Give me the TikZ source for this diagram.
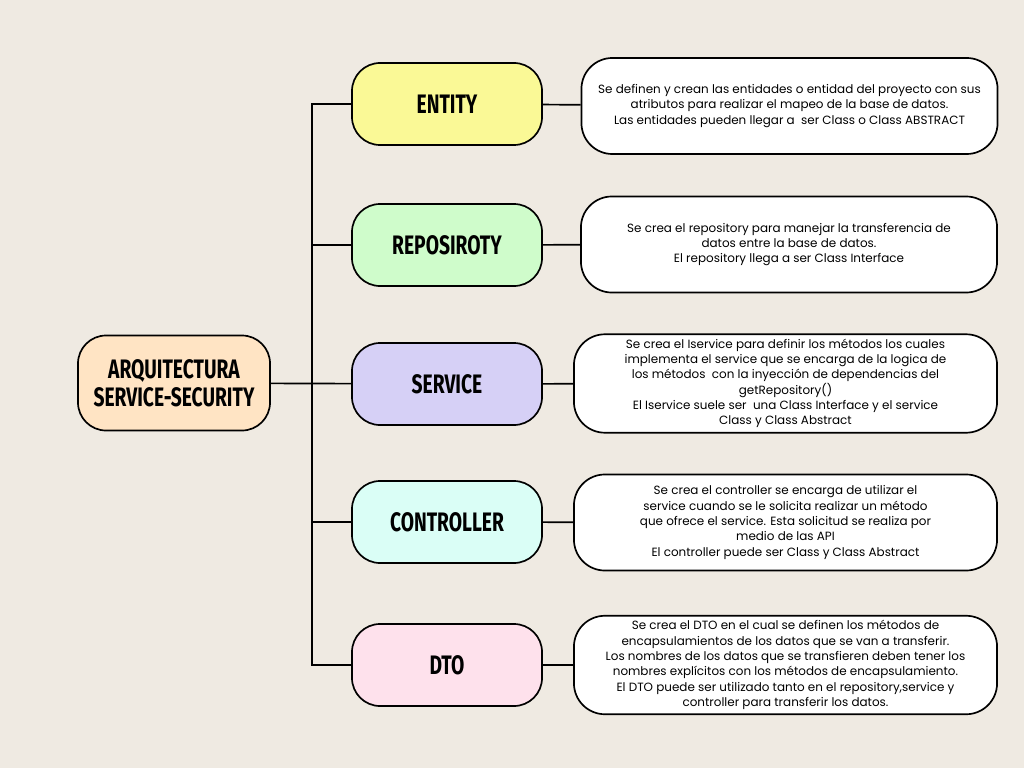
\documentclass[tikz,border=0pt]{standalone}
\usepackage{fontspec}
\usepackage{tikz}
\usetikzlibrary{positioning}
\setmainfont{Poppins}
\newfontfamily\headfont[FakeStretch=0.72]{Fira Sans}
\definecolor{paper}{RGB}{239,234,226}
\definecolor{rootfill}{RGB}{255,228,196}
\definecolor{entityfill}{RGB}{250,249,150}
\definecolor{repofill}{RGB}{207,252,203}
\definecolor{servfill}{RGB}{214,208,246}
\definecolor{ctrlfill}{RGB}{218,254,246}
\definecolor{dtofill}{RGB}{254,225,236}
\tikzstyle{layer} = [rectangle, rounded corners=20pt, minimum width=4.75cm, minimum height=2.05cm, text centered, draw=black, line width=1.2pt, font=\headfont\bfseries\fontsize{19}{20}\selectfont]
\tikzstyle{note} = [rectangle, rounded corners=22pt, minimum width=10.4cm, minimum height=2.4cm, align=center, draw=black, fill=white, line width=1.2pt, font=\fontsize{8.5}{10.9}\selectfont]
\tikzstyle{link} = [line width=1.2pt, color=black]

\begin{document}
\begin{tikzpicture}[x=0.025cm, y=-0.025cm]
\fill[paper] (0,0) rectangle (1024,768);
\useasboundingbox (0,0) rectangle (1024,768);
% Main layers
\node[layer, fill=rootfill, minimum width=4.8cm, minimum height=2.375cm, align=center] (root) at (174,383) {ARQUITECTURA\\SERVICE-SECURITY};
\node[layer, fill=entityfill] (entity) at (447,104) {ENTITY};
\node[layer, fill=repofill] (repo) at (447,245) {REPOSIROTY};
\node[layer, fill=servfill] (service) at (447,384) {SERVICE};
\node[layer, fill=ctrlfill] (controller) at (447,522) {CONTROLLER};
\node[layer, fill=dtofill] (dto) at (447,665) {DTO};

% Descriptions
\node[note] (entitytxt) at (789.5,106) {Se definen y crean las entidades o entidad del proyecto con sus\\atributos para realizar el mapeo de la base de datos.\\Las entidades pueden llegar a\ \ ser Class o Class ABSTRACT};
\node[note] (repotxt) at (789,244.5) {Se crea el repository para manejar la transferencia de\\datos entre la base de datos.\\El repository llega a ser Class Interface};
\node[note, minimum width=10.575cm] (servtxt) at (785.5,383.5) {Se crea el Iservice para definir los métodos los cuales\\implementa el service que se encarga de la logica de\\los métodos\ \ con la inyección de dependencias del\\getRepository()\\El Iservice suele ser\ \ una Class Interface y el service\\Class y Class Abstract};
\node[note, minimum width=10.575cm] (ctrltxt) at (785.5,522.5) {Se crea el controller se encarga de utilizar el\\service cuando se le solicita realizar un método\\que ofrece el service. Esta solicitud se realiza por\\medio de las API\\El controller puede ser Class y Class Abstract};
\node[note, minimum width=10.575cm] (dtotxt) at (785.5,665) {Se crea el DTO en el cual se definen los métodos de\\encapsulamientos de los datos que se van a transferir.\\Los nombres de los datos que se transfieren deben tener los\\nombres explícitos con los métodos de encapsulamiento.\\El DTO puede ser utilizado tanto en el repository,service y\\controller para transferir los datos.};

% Tree
\draw[link] (root) -- (service);
\draw[link] (entity.west) -- ++(-39,0) |- (dto.west);
\draw[link] (repo.west) -- ++(-39,0);
\draw[link] (controller.west) -- ++(-39,0);
\draw[link] (entity) -- (entitytxt);
\draw[link] (repo) -- (repotxt);
\draw[link] (service) -- (servtxt);
\draw[link] (controller) -- (ctrltxt);
\draw[link] (dto) -- (dtotxt);
\end{tikzpicture}
\end{document}
